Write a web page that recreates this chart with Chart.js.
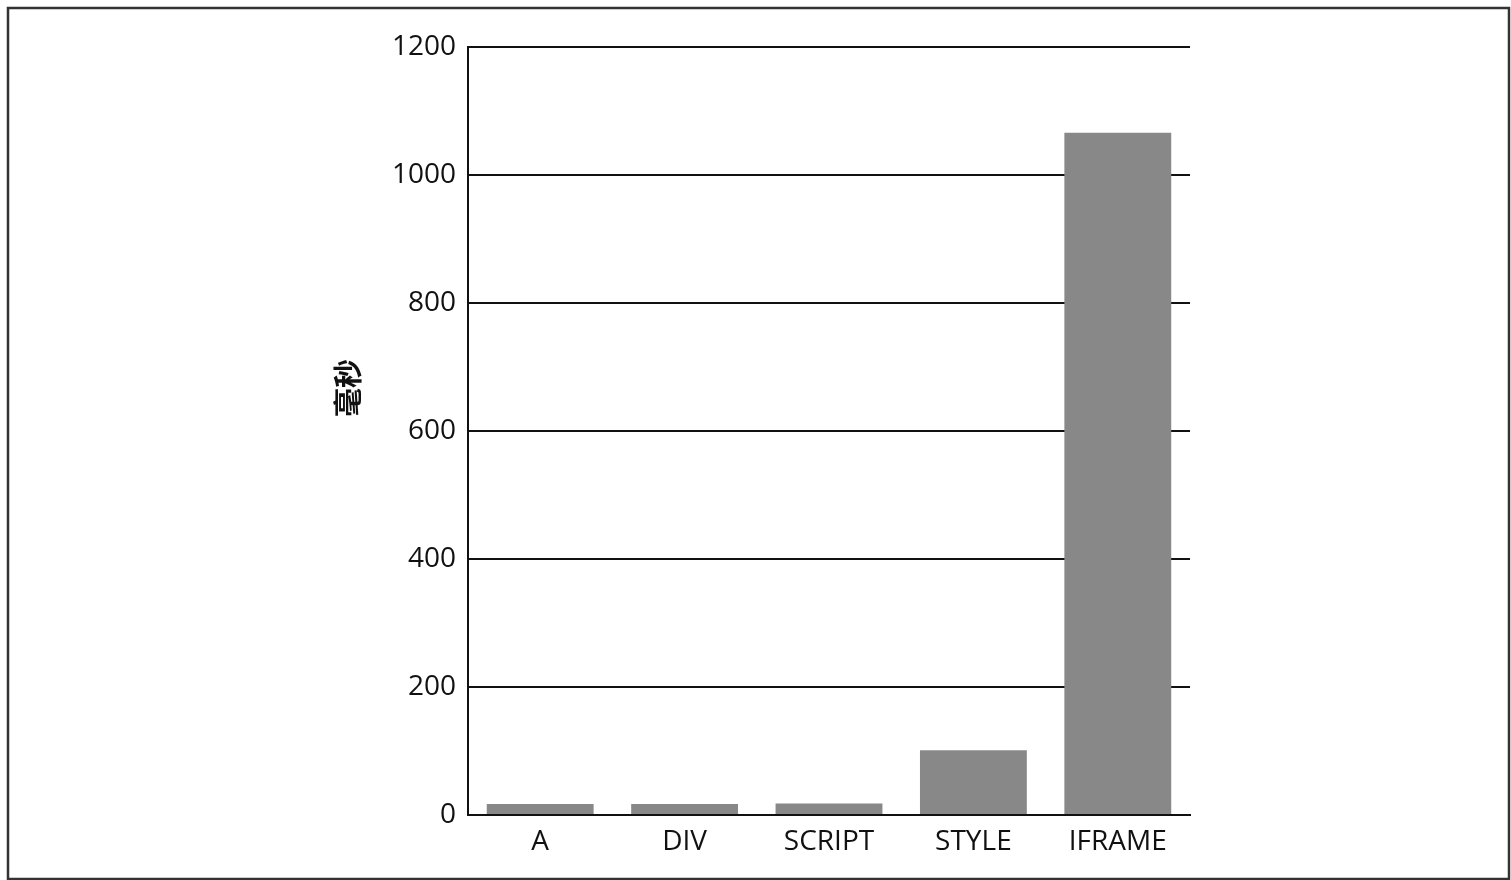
<!DOCTYPE html>
<html>
<head>
<meta charset="utf-8">
<script src="https://cdn.jsdelivr.net/npm/chart.js@4"></script>
<style>
html,body{margin:0;padding:0;background:#fff;overflow:hidden}
#wrap{position:absolute;left:0;top:0;width:1511px;height:880px}
</style>
</head>
<body>
<div id="wrap"><canvas id="chart" width="1511" height="880"></canvas></div>
<script>
// data
const categories = ['A', 'DIV', 'SCRIPT', 'STYLE', 'IFRAME'];
const msValues = [17, 17, 18, 101, 1066];
const yTicks = [0, 200, 400, 600, 800, 1000, 1200];
const yTitle = '毫秒';

// frame round the whole figure, and the y title (sits above the middle in the original)
const extrasPlugin = {
  id: 'extras',
  afterDraw(chart) {
    const c = chart.ctx;
    c.save();
    c.strokeStyle = '#333';
    c.lineWidth = 2.5;
    c.strokeRect(8, 8, 1501, 871);
    c.translate(348, 388);
    c.rotate(-Math.PI / 2);
    c.fillStyle = '#111';
    c.font = 'bold 29px "Noto Sans CJK SC", sans-serif';
    c.textAlign = 'center';
    c.textBaseline = 'middle';
    c.fillText(yTitle, 0, 0);
    c.restore();
  }
};

const font = {family: '"Open Sans", "Noto Sans", sans-serif', size: 28};

new Chart(document.getElementById('chart'), {
  type: 'bar',
  data: {
    labels: categories,
    datasets: [{
      data: msValues,
      backgroundColor: '#888888',
      borderWidth: 0,
      barPercentage: 0.74,
      categoryPercentage: 1
    }]
  },
  options: {
    responsive: false,
    animation: false,
    layout: {padding: {left: 330, right: 321, top: 47, bottom: 0}},
    plugins: {legend: {display: false}, tooltip: {enabled: false}},
    scales: {
      x: {
        grid: {display: false, drawTicks: false},
        border: {display: true, color: '#111', width: 2},
        ticks: {color: '#111', font: font, padding: 10},
        afterFit(s) { s.height = 65; }
      },
      y: {
        min: 0, max: 1200,
        afterBuildTicks(s) { s.ticks = yTicks.map(v => ({value: v})); },
        grid: {color: '#111', lineWidth: 2, drawTicks: false},
        border: {display: true, color: '#111', width: 2},
        ticks: {color: '#111', font: font, padding: 12, callback: v => String(v)},
        afterFit(s) { s.width = 138; }
      }
    }
  },
  plugins: [extrasPlugin]
});
</script>
</body>
</html>
